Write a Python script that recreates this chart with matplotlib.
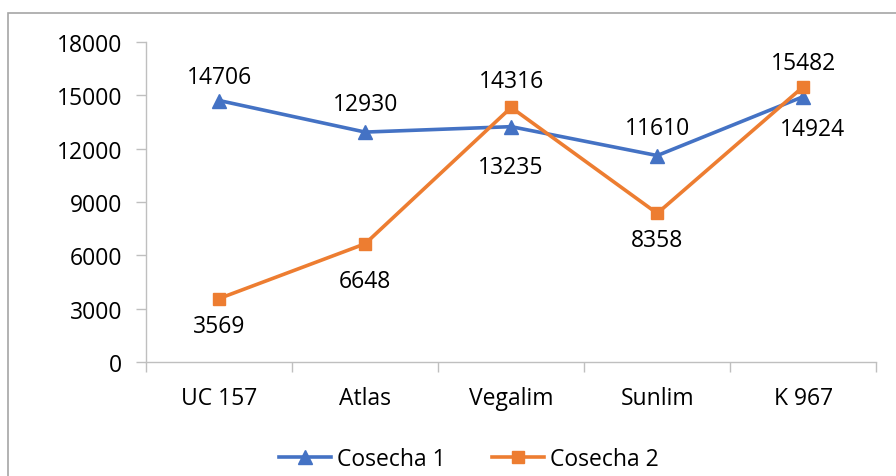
import matplotlib.pyplot as plt
from matplotlib.patches import Rectangle

plt.rcParams['font.family'] = ['Open Sans', 'DejaVu Sans']

# datos de rendimiento por variedad
variedades = ['UC 157', 'Atlas', 'Vegalim', 'Sunlim', 'K 967']
cosecha_1 = [14706, 12930, 13235, 11610, 14924]
cosecha_2 = [3569, 6648, 14316, 8358, 15482]
y_ticks = [0, 3000, 6000, 9000, 12000, 15000, 18000]

# desplazamiento vertical de cada etiqueta en px (positivo = arriba)
dy_1 = [24, 28, -40, 28, -32]
dy_2 = [-27, -37, 26, -27, 24]
dx_1 = [0, 0, 0, 0, 9]

azul = '#4472C4'
naranja = '#ED7D31'
gris = '#BFBFBF'
fs = 16.5
px = 72 / 100  # px -> puntos

fig = plt.figure(figsize=(8.96, 4.77), dpi=100)
ax = fig.add_axes([0.163, 0.239, 0.815, 0.671])

# marco del gráfico
fig.patches.append(Rectangle((8 / 896, -0.1), 1.2, 0.1 + (477 - 14) / 477,
                             transform=fig.transFigure, fill=False,
                             edgecolor='#A6A6A6', linewidth=1.2))

x = list(range(len(variedades)))
ax.plot(x, cosecha_1, color=azul, linewidth=2.6, marker='^', markersize=10,
        label='Cosecha 1', zorder=3)
ax.plot(x, cosecha_2, color=naranja, linewidth=2.6, marker='s', markersize=8,
        label='Cosecha 2', zorder=3)

for xi, v, dy, dx in zip(x, cosecha_1, dy_1, dx_1):
    ax.annotate(str(v), (xi, v), xytext=(dx * px, dy * px),
                textcoords='offset points', ha='center', va='center', fontsize=fs)
for xi, v, dy in zip(x, cosecha_2, dy_2):
    ax.annotate(str(v), (xi, v), xytext=(0, dy * px),
                textcoords='offset points', ha='center', va='center', fontsize=fs)

ax.set_xlim(-0.5, len(variedades) - 0.5)
ax.set_ylim(0, 18000)
ax.set_yticks(y_ticks)
ax.set_yticklabels([str(t) for t in y_ticks], fontsize=fs)

# ticks del eje x en los límites entre categorías
ax.set_xticks([i - 0.5 for i in range(len(variedades) + 1)])
ax.set_xticklabels([])
ax.set_xticks(x, minor=True)
ax.set_xticklabels(variedades, minor=True, fontsize=fs)
ax.tick_params(axis='x', which='minor', length=0, pad=17)
ax.tick_params(axis='x', which='major', length=7, color=gris, width=1)
ax.tick_params(axis='y', length=7, color=gris, width=1, pad=10)

for s in ['top', 'right']:
    ax.spines[s].set_visible(False)
for s in ['left', 'bottom']:
    ax.spines[s].set_color(gris)
    ax.spines[s].set_linewidth(1)

ax.legend(loc='center', bbox_to_anchor=(0.442, -0.303), ncol=2,
          frameon=False, fontsize=fs, handlelength=2.3, columnspacing=2.0,
          handletextpad=0.25)

fig.savefig('out.png', dpi=100)
